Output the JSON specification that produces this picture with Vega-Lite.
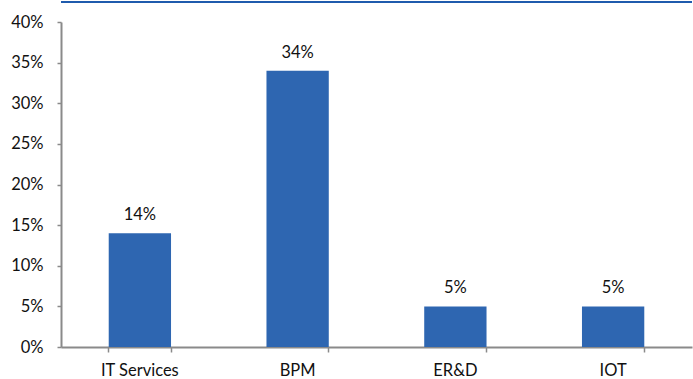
{
  "$schema": "https://vega.github.io/schema/vega-lite/v6.json",
  "width": 631,
  "height": 325,
  "autosize": {"type": "none"},
  "padding": {"left": 61, "top": 22, "right": 1, "bottom": 32},
  "background": "white",
  "config": {
    "view": {"stroke": null},
    "font": "Lato",
    "axis": {"labelFont": "Lato", "labelFontSize": 16.5, "labelColor": "#111", "domainColor": "#8a8a8a", "domainWidth": 2, "tickColor": "#8a8a8a", "tickWidth": 1.5, "grid": false, "title": null, "labelOverlap": false}
  },
  "data": {"values": [
    {"segment": "IT Services", "share": 0.14, "label": "14%"},
    {"segment": "BPM", "share": 0.34, "label": "34%"},
    {"segment": "ER&D", "share": 0.05, "label": "5%"},
    {"segment": "IOT", "share": 0.05, "label": "5%"}
  ]},
  "layer": [
    {
      "mark": {"type": "rule", "clip": false, "color": "#1f5bad", "strokeWidth": 1.5},
      "encoding": {"y": {"datum": 0.4246, "type": "quantitative"}}
    },
    {
      "mark": {"type": "bar", "color": "#2e66b1"},
      "encoding": {
        "x": {"field": "segment", "type": "nominal", "sort": null,
              "scale": {"paddingInner": 0.605, "paddingOuter": 0.3025},
              "axis": {"labelAngle": 0, "bandPosition": 1, "tickExtra": true, "tickSize": 5, "labelPadding": 10}},
        "y": {"field": "share", "type": "quantitative",
              "scale": {"domain": [0, 0.4]},
              "axis": {"format": ".0%", "values": [0,0.05,0.1,0.15,0.2,0.25,0.3,0.35,0.4], "tickSize": 4, "labelPadding": 14}}
      }
    },
    {
      "mark": {"type": "text", "baseline": "bottom", "dy": -10, "fontSize": 16.5, "font": "Lato", "color": "#111"},
      "encoding": {
        "x": {"field": "segment", "type": "nominal", "sort": null},
        "y": {"field": "share", "type": "quantitative"},
        "text": {"field": "label"}
      }
    }
  ]
}
